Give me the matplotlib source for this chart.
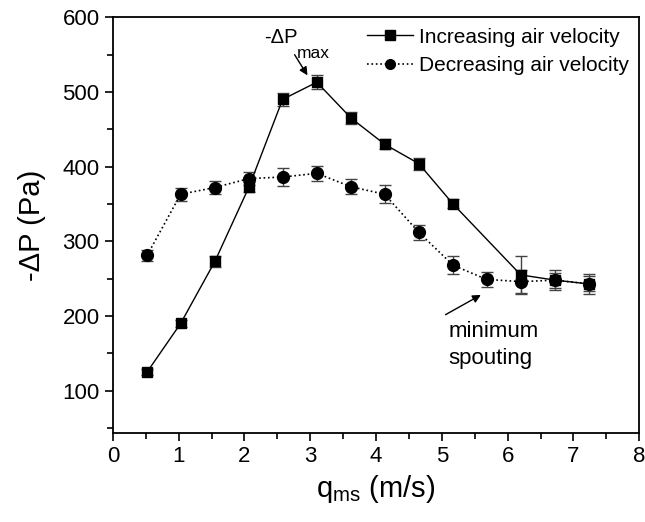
import numpy as np
import matplotlib.pyplot as plt
from matplotlib.ticker import MultipleLocator
from matplotlib.lines import Line2D

plt.rcParams['font.family'] = ['Liberation Sans', 'DejaVu Sans']

# Données
x_inc = [0.52, 1.03, 1.55, 2.07, 2.58, 3.10, 3.62, 4.13, 4.65, 5.17, 6.20, 6.72, 7.23]
dp_inc = [125, 190, 273, 373, 490, 513, 465, 430, 404, 350, 255, 248, 243]
err_inc = [4, 5, 7, 7, 9, 9, 8, 7, 8, 6, 25, 13, 13]

x_dec = [0.52, 1.03, 1.55, 2.07, 2.58, 3.10, 3.62, 4.13, 4.65, 5.17, 5.68, 6.20, 6.72, 7.23]
dp_dec = [281, 363, 372, 384, 386, 391, 373, 363, 312, 268, 249, 246, 248, 243]
err_dec = [8, 9, 9, 9, 12, 10, 10, 12, 10, 12, 10, 15, 10, 10]

fig = plt.figure(figsize=(6.45, 5.22), dpi=100)
ax = fig.add_axes([0.175, 0.17, 0.816, 0.797])

ax.errorbar(x_inc, dp_inc, yerr=err_inc, color='black', ls='-', lw=1,
            marker='s', ms=7.5, ecolor='#444444', elinewidth=1, capsize=4)
ax.errorbar(x_dec, dp_dec, yerr=err_dec, color='black', ls=':', lw=1.2,
            marker='o', ms=8.5, ecolor='#444444', elinewidth=1, capsize=4)

ax.set_xlim(0, 8)
ax.set_ylim(43, 600)
ax.xaxis.set_major_locator(MultipleLocator(1))
ax.xaxis.set_minor_locator(MultipleLocator(0.5))
ax.yaxis.set_major_locator(MultipleLocator(100))
ax.yaxis.set_minor_locator(MultipleLocator(50))
ax.tick_params(which='both', direction='out', top=False, right=False,
               labelsize=16, width=1.2)
ax.tick_params(which='major', length=6)
ax.tick_params(which='minor', length=4)
for s in ax.spines.values():
    s.set_linewidth(1.3)

ax.set_xlabel('q$_{\\mathregular{ms}}$ (m/s)', fontsize=21, labelpad=4)
ax.set_ylabel('-ΔP (Pa)', fontsize=21, labelpad=12)

# légende sans barres d'erreur
h1 = Line2D([], [], color='black', ls='-', lw=1, marker='s', ms=6.5)
h2 = Line2D([], [], color='black', ls=':', lw=1.2, marker='o', ms=7)
ax.legend([h1, h2], ['Increasing air velocity', 'Decreasing air velocity'],
          loc='upper right', frameon=False, fontsize=15, handlelength=2.2,
          borderaxespad=0.1, handletextpad=0.3, labelspacing=0.45)

# -ΔPmax
ax.text(2.30, 565, '-ΔP', fontsize=14.5)
ax.text(2.79, 546, 'max', fontsize=12.5)
ax.annotate('', xy=(2.98, 519), xytext=(2.74, 553),
            arrowprops=dict(arrowstyle='-|>', color='black', lw=1, mutation_scale=12))

# minimum spouting
ax.text(5.1, 172, 'minimum', fontsize=16)
ax.text(5.1, 136, 'spouting', fontsize=16)
ax.annotate('', xy=(5.63, 230), xytext=(5.02, 200),
            arrowprops=dict(arrowstyle='-|>', color='black', lw=1, mutation_scale=12))

plt.savefig('out.png', dpi=100)
